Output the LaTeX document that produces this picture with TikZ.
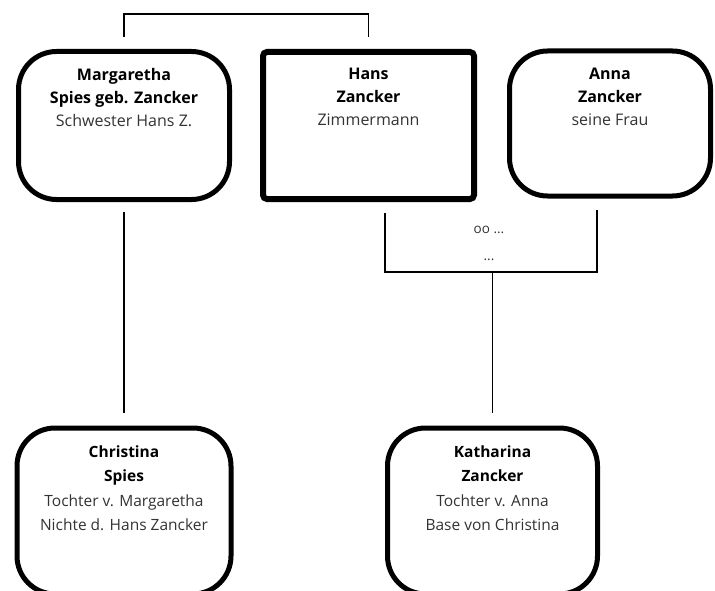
\documentclass[tikz,border=0pt]{standalone}
\usepackage{fontspec}
\setmainfont{Open Sans}
\begin{document}
\begin{tikzpicture}[x=1pt,y=-1pt,
  pbox/.style={draw=black, line width=5pt, rounded corners=38pt, inner sep=0pt},
  hbox/.style={draw=black, line width=6pt, rounded corners=4pt, inner sep=0pt},
  ptext/.style={anchor=north, align=center, inner sep=0pt, font=\fontsize{16}{23}\selectfont, text=black!80},
  btext/.style={anchor=north, align=center, inner sep=0pt, font=\fontsize{15.5}{24.5}\selectfont, text=black!80},
  conn/.style={draw=black, line width=1.8pt}]
\useasboundingbox (0,0) rectangle (715,591);
\clip (0,0) rectangle (715,591);
% boxes
\node[pbox, minimum width=211pt, minimum height=148pt] (m) at (124,125.5) {};
\node[hbox, minimum width=211pt, minimum height=147pt] (h) at (368.5,125.5) {};
\node[pbox, minimum width=201pt, minimum height=145pt] (a) at (610,123.5) {};
\node[pbox, minimum width=214pt, minimum height=166pt] (c) at (124,511) {};
\node[pbox, minimum width=210pt, minimum height=166pt] (k) at (492.5,511) {};
% texts
\node[ptext] (mt) at ([yshift=-19pt]m.north) {\textbf{\color{black}Margaretha}\\\textbf{\color{black}Spies geb. Zancker}\\Schwester Hans Z.};
\node[ptext] (ht) at ([yshift=-19pt]h.north) {\textbf{\color{black}Hans}\\\textbf{\color{black}Zancker}\\Zimmermann};
\node[ptext] (at) at ([yshift=-19pt]a.north) {\textbf{\color{black}Anna}\\\textbf{\color{black}Zancker}\\seine Frau};
\node[btext] (ct) at ([yshift=-20pt]c.north) {\textbf{\color{black}Christina}\\\textbf{\color{black}Spies}\\Tochter v. Margaretha\\Nichte d. Hans Zancker};
\node[btext] (kt) at ([yshift=-20pt]k.north) {\textbf{\color{black}Katharina}\\\textbf{\color{black}Zancker}\\Tochter v. Anna\\Base von Christina};
% connectors
\draw[conn] ([yshift=12pt]m.north) -- ++(0,-23) -| ([yshift=12pt]h.north);
\draw[conn] ([yshift=-10pt]m.south) -- ([yshift=13pt]c.north);
\coordinate (lvl) at (0,272);
\coordinate (mar) at (k.north |- lvl);
\draw[conn] ([xshift=16.5pt,yshift=-11pt]h.south) |- (mar) -| ([xshift=-13pt,yshift=-11pt]a.south);
\draw[conn] (mar) -- ([yshift=13pt]k.north);
\node[inner sep=0pt, align=center, font=\fontsize{13.5}{27}\selectfont, text=black!80] (ml) at (489,243) {oo ...\\...};
\end{tikzpicture}
\end{document}
